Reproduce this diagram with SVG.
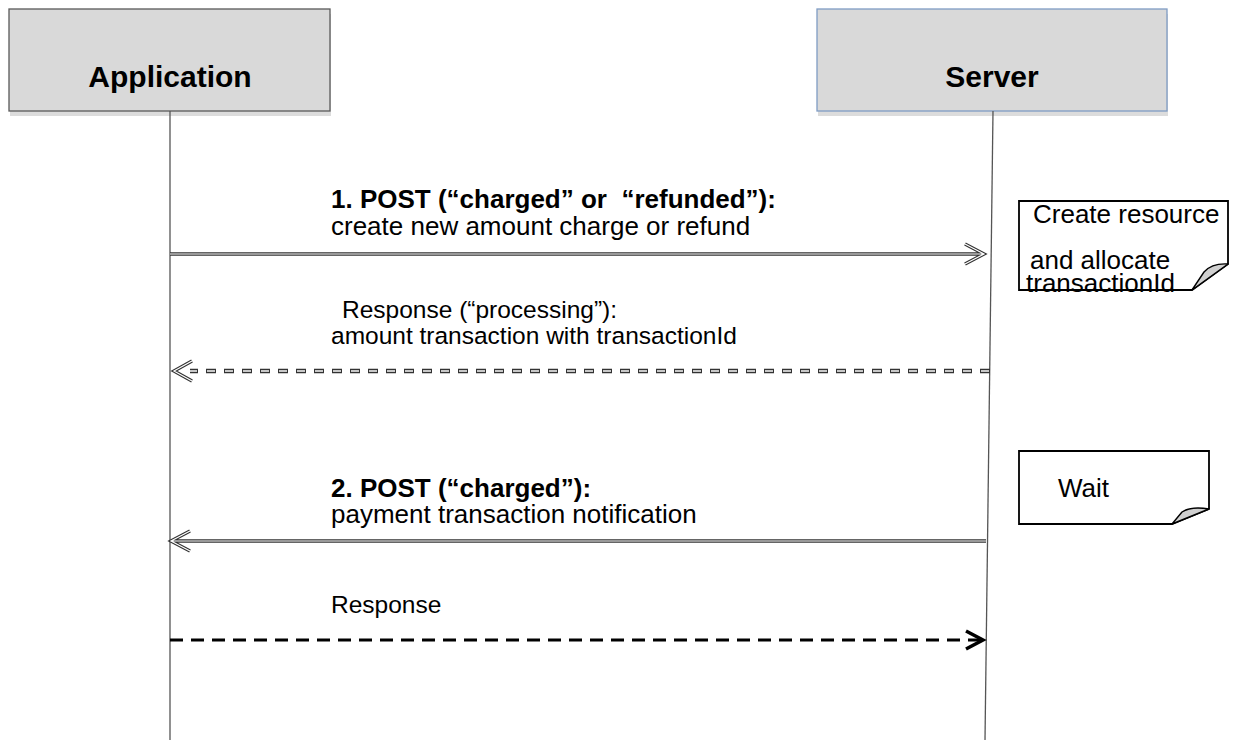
<svg xmlns="http://www.w3.org/2000/svg" width="1234" height="740" viewBox="0 0 1234 740">
<style>
text{font-family:"Liberation Sans",Arial,sans-serif;fill:#000}
.title{font-size:30px;font-weight:bold}
.b{font-size:26px;font-weight:bold}
.r{font-size:26px}
.r2{font-size:24.5px}
.life{stroke:#555;stroke-width:1.3;fill:none}
.ho{stroke:#333;stroke-width:3.4;fill:none;stroke-linejoin:miter}
.hi{stroke:#fff;stroke-width:1.2;fill:none;stroke-linejoin:miter}
.note{fill:#fff;stroke:#000;stroke-width:1.8}
.fold{fill:#d0d0d0;stroke:#000;stroke-width:1.4;stroke-linejoin:round}
</style>
<rect width="1234" height="740" fill="#fff"/>
<g id="application">
<rect x="10" y="14" width="321" height="102" fill="#dcdcdc"/>
<rect x="9" y="9" width="321" height="102" fill="#d9d9d9" stroke="#595959" stroke-width="1.3"/>
<text class="title" x="170" y="87" text-anchor="middle">Application</text>
<line class="life" x1="170" y1="111" x2="170" y2="740"/>
</g>
<g id="server">
<rect x="818" y="14" width="350" height="102" fill="#dcdcdc"/>
<rect x="817" y="9" width="350" height="102" fill="#d9d9d9" stroke="#7f9cc4" stroke-width="1.3"/>
<text class="title" x="992" y="87" text-anchor="middle">Server</text>
<line class="life" x1="993" y1="111" x2="985" y2="740"/>
</g>
<g id="note-create">
<path class="note" d="M1019,201 H1228 V264 L1192,290 H1019 Z"/>
<path class="fold" d="M1192,290 L1228,264 Q1212,263 1204,272 Z"/>
<text class="r" x="1033" y="223">Create resource</text>
<text class="r" x="1030" y="269">and allocate</text>
<text class="r" x="1026" y="292">transactionId</text>
</g>
<g id="note-wait">
<path class="note" d="M1019,451 H1209 V509 L1172,524 H1019 Z"/>
<path class="fold" d="M1172,524 L1209,509 Q1191,506 1182,512 Z"/>
<text class="r" x="1058" y="497">Wait</text>
</g>
<g id="connectors">
<g id="msg1">
<path class="ho" d="M170,254 H983 M965,244 L984,254 L965,264"/>
<path class="hi" d="M170,254 H983 M965,244 L984,254 L965,264"/>
<text class="b" x="331" y="208" xml:space="preserve">1. POST (“charged” or  “refunded”):</text>
<text class="r" x="331" y="235">create new amount charge or refund</text>
</g>
<g id="msg2">
<path d="M990,371 H190" stroke="#333" stroke-width="4.4" stroke-dasharray="10 8" fill="none"/>
<path d="M990,371 H190" stroke="#c8c8c8" stroke-width="2.2" stroke-dasharray="8 10" stroke-dashoffset="-1" fill="none"/>
<path class="ho" d="M192,361 L174,371 L192,381"/>
<path class="hi" d="M192,361 L174,371 L192,381"/>
<text class="r2" x="342" y="318">Response (“processing”):</text>
<text class="r2" x="331" y="344">amount transaction with transactionId</text>
</g>
<g id="msg3">
<path class="ho" d="M986,541 H172 M190,531 L171,541 L190,551"/>
<path class="hi" d="M986,541 H172 M190,531 L171,541 L190,551"/>
<text class="b" x="331" y="497">2. POST (“charged”):</text>
<text class="r" x="331" y="523">payment transaction notification</text>
</g>
<g id="msg4">
<path d="M170,640 H980" stroke="#000" stroke-width="3" stroke-dasharray="13 8" fill="none"/>
<path d="M966,631 L983,640 L966,649" stroke="#000" stroke-width="3.5" fill="none"/>
<text class="r2" x="331" y="613">Response</text>
</g>
</g>
</svg>
